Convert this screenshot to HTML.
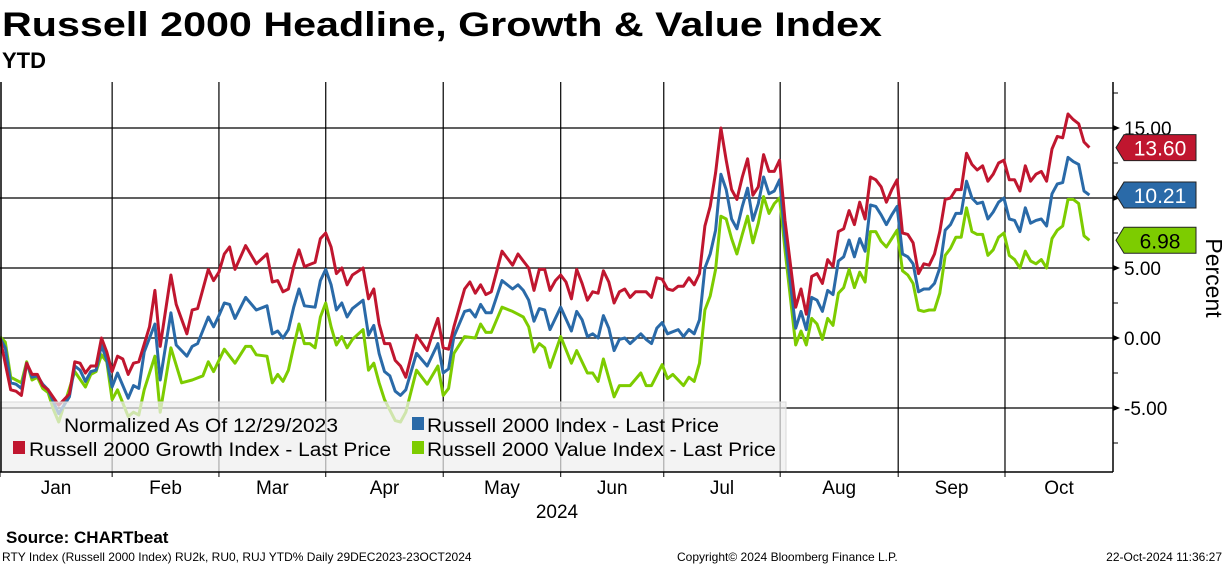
<!DOCTYPE html>
<html><head><meta charset="utf-8"><style>
html,body{margin:0;padding:0;background:#fff;}
svg{display:block;font-family:"Liberation Sans",sans-serif;}
</style></head><body>
<svg id="chart" width="1224" height="566" viewBox="0 0 1224 566">
<text x="2" y="36" font-size="34" font-weight="bold" textLength="880" lengthAdjust="spacingAndGlyphs">Russell 2000 Headline, Growth &amp; Value Index</text>
<text x="2" y="68" font-size="22" font-weight="bold">YTD</text>
<g id="grid"></g>
<g id="series"></g>
<g id="legend">
<rect x="0" y="402" width="786" height="70" fill="#efefef" fill-opacity="0.72" stroke="#d8d8d8"/>
<text x="64" y="432" font-size="19" textLength="274" lengthAdjust="spacingAndGlyphs">Normalized As Of 12/29/2023</text>
<rect x="412" y="417" width="12" height="13" fill="#2a6aa8"/>
<text x="427" y="432" font-size="19" textLength="292" lengthAdjust="spacingAndGlyphs">Russell 2000 Index - Last Price</text>
<rect x="13" y="441" width="12" height="13" fill="#c0162f"/>
<text x="29" y="456" font-size="19" textLength="362" lengthAdjust="spacingAndGlyphs">Russell 2000 Growth Index - Last Price</text>
<rect x="412" y="441" width="12" height="13" fill="#7dcc00"/>
<text x="427" y="456" font-size="19" textLength="349" lengthAdjust="spacingAndGlyphs">Russell 2000 Value Index - Last Price</text>
</g>
<g id="axes"></g>
<text x="557" y="518" font-size="19" text-anchor="middle">2024</text>
<text transform="translate(1206,278) rotate(90)" font-size="23" text-anchor="middle">Percent</text>
<text x="6" y="543" font-size="17" font-weight="bold">Source:  CHARTbeat</text>
<text x="2" y="561" font-size="12">RTY Index (Russell 2000 Index) RU2k, RU0, RUJ YTD%  Daily 29DEC2023-23OCT2024</text>
<text x="677" y="561" font-size="12">Copyright© 2024 Bloomberg Finance L.P.</text>
<text x="1222" y="561" font-size="12" text-anchor="end">22-Oct-2024 11:36:27</text>
</svg>
<script>
const monthLabels = ["Jan","Feb","Mar","Apr","May","Jun","Jul","Aug","Sep","Oct"];
const monthStartDays = [0,21,41,61,83,105,124.3,146.1,168.2,188.2];
const yTicks = [-5,0,5,10,15];
const yMinorTicks = [-7.5,-2.5,2.5,7.5,12.5,17.5];
const growthDays = [0,2,3,4,5,6,7,8,9,11,13,14,15,16,17,18,19,20,21,22,23,24,25,26,28,29,30,32,33,35,36,37,39,40,41,42,43,44,46,48,50,51,52,53,54,55,56,57,59,60,61,62,63,64,65,66,68,69,70,71,72,73,74,75,76,78,80,81,82,83,84,85,87,88,89,90,91,92,94,96,97,98,99,100,101,102,103,104,105,106,107,108,109,110,111,112,113,114,115,116,117,118,119,120,121,122,123,124,125,126,127,128,129,130,131,132,133,134,135,136,137,138,139,140,141,142,143,144,145,146,147,149,150,151,152,153,154,155,156,157,158,159,160,161,162,163,164,165,166,167,168,169,170,171,172,173,174,175,176,177,178,179,180,181,182,183,184,185,186,187,188,189,190,191,192,193,194,195,196,197,198,199,200,201,202,203,204];
const growthVals = [0,-3.7,-3.8,-4.1,-1.8,-2.6,-2.6,-3.4,-3.7,-4.8,-4.0,-1.7,-1.8,-2.5,-2.0,-2.0,0,-1.0,-2.4,-1.3,-1.5,-2.6,-1.8,-1.7,0.8,3.4,-0.6,4.5,2.4,0.3,2.0,2.1,4.9,4.1,4.7,6.0,6.5,4.9,6.6,5.3,6.0,4.0,4.1,3.3,3.5,5.1,6.3,5.1,5.4,7.1,7.5,6.5,4.6,5.0,3.8,4.5,5.0,2.8,3.5,1.0,-0.4,-0.4,-1.6,-2.0,-2.8,0.2,-0.9,0.3,1.4,-0.7,-0.8,0.8,3.5,4.0,3.2,3.8,3.1,3.3,6.2,5.2,6.0,5.5,5.0,3.4,4.9,4.9,3.4,4.1,4.5,4.0,2.8,4.9,3.9,2.7,3.3,3.2,4.8,4.0,2.5,3.3,3.5,2.9,3.3,3.3,3.3,2.9,4.3,4.2,3.5,3.4,3.7,3.7,4.3,3.8,4.6,8.0,9.4,11.8,15.0,12.7,10.6,9.9,11.5,12.8,10.2,10.8,13.1,11.9,11.9,12.7,8.4,2.2,3.5,1.7,4.4,4.6,3.9,5.6,5.1,7.6,7.8,9.1,8.1,9.7,8.5,11.5,11.3,10.8,9.7,10.6,11.3,7.5,7.4,6.8,4.6,5.3,5.2,6.0,7.6,9.9,10.0,10.6,10.6,13.2,12.4,12.0,12.3,11.2,11.7,12.5,12.7,11.3,11.3,10.5,12.3,11.2,11.7,11.9,11.2,13.5,14.4,14.3,16.0,15.6,15.3,14.0,13.6];
const headlineDays = [0,1,2,3,4,5,6,7,8,9,11,13,14,15,16,17,18,19,20,21,22,24,25,26,27,29,30,32,33,35,36,37,39,40,41,42,43,44,46,48,50,51,52,53,54,55,56,57,59,60,61,62,63,64,65,66,68,69,70,71,72,73,74,75,76,78,80,82,83,84,85,87,88,89,90,91,92,94,96,97,98,99,100,101,102,103,105,107,108,109,110,111,112,113,114,115,116,117,118,120,121,122,123,124,125,127,128,129,130,131,132,133,134,135,136,137,138,139,140,141,142,143,144,145,146,147,149,150,151,152,153,154,155,156,157,158,159,160,161,162,163,164,165,166,167,168,169,170,171,172,173,174,175,176,177,178,179,180,181,182,183,184,185,186,187,188,189,190,191,192,193,194,195,196,197,198,199,200,201,202,203,204];
const headlineVals = [0,-0.7,-3.2,-3.3,-3.6,-1.8,-2.8,-2.7,-3.3,-3.7,-5.4,-4.2,-2.0,-2.3,-3.1,-2.4,-2.3,-0.5,-1.6,-3.5,-2.5,-4.3,-3.4,-3.6,-1.0,1.0,-3.0,1.8,-0.5,-1.3,-0.6,-0.4,1.5,0.8,1.6,2.5,2.4,1.4,2.9,2.0,2.3,0.3,0.5,0,0.6,2.2,3.5,2.3,2.2,4.1,4.9,3.8,2.0,2.5,1.5,2.1,2.7,0.2,0.9,-1.1,-2.4,-2.7,-3.8,-4.1,-3.7,-1.1,-2.0,-0.4,-2.5,-2.2,0.1,1.9,2.0,1.5,2.4,1.8,1.8,4.1,3.5,3.8,3.4,2.7,1.2,2.1,2.0,0.6,2.2,0.5,1.9,1.3,0.1,0.3,0,1.6,0.7,-0.9,-0.1,0,-0.4,0.3,-0.1,-0.4,0.7,1.1,0.3,0.6,0.1,0.6,0.3,1.3,5.0,6.0,7.7,11.7,10.6,8.5,7.8,9.4,10.7,8.4,9.6,11.5,10.3,10.5,11.3,7.2,0.7,1.9,0.6,2.9,2.7,1.9,3.4,3.1,5.5,5.8,7.0,5.8,7.1,6.2,9.5,9.4,8.8,8.1,8.8,9.4,6.0,5.8,5.3,3.3,3.5,3.5,3.9,5.0,7.7,8.1,8.9,8.9,11.2,10.0,9.6,9.7,8.5,9.0,9.7,10.0,8.5,8.4,7.6,9.3,8.2,8.4,8.5,8.0,10.3,11.0,11.1,12.9,12.6,12.4,10.5,10.21];
const valueDays = [0,1,2,4,5,6,7,8,9,10,11,12,14,16,17,18,19,20,21,22,24,25,26,27,29,30,32,34,36,38,39,40,42,44,46,47,48,50,51,52,53,54,55,56,57,58,59,60,61,62,63,64,65,66,68,69,70,71,72,74,75,76,78,80,82,83,84,85,87,89,90,91,92,94,96,97,98,99,100,101,102,103,105,107,108,110,111,112,113,115,116,118,120,121,122,124,125,126,128,129,130,131,132,133,134,135,136,137,138,139,140,141,142,143,144,145,146,147,149,150,151,152,153,154,155,156,157,158,159,160,161,162,163,164,165,166,167,168,169,170,171,172,173,174,175,176,177,178,179,180,181,182,183,184,185,186,187,188,189,190,191,192,193,194,195,196,197,198,199,200,201,202,203,204];
const valueVals = [0.1,-0.3,-2.8,-3.2,-1.7,-3.0,-2.8,-3.6,-3.9,-5.1,-6.0,-4.8,-2.4,-3.5,-2.6,-2.4,-1.2,-1.7,-4.4,-3.7,-5.6,-5.3,-5.5,-3.7,-1.3,-5.3,-0.7,-3.2,-3.0,-2.7,-1.7,-2.4,-0.8,-1.8,-0.6,-0.6,-1.2,-1.3,-3.2,-2.6,-3.1,-2.3,-0.6,1.0,-0.4,-0.4,-0.7,1.5,2.5,0.8,-0.5,0.1,-0.7,-0.1,0.6,-2.3,-1.8,-3.2,-4.4,-5.9,-6.0,-5.3,-2.3,-3.3,-2.0,-4.1,-3.6,-1.1,0.1,0,1.0,0.4,0.4,2.2,1.9,1.7,1.5,0.8,-1.0,-0.4,-0.7,-2.1,0.1,-1.8,-0.9,-2.5,-2.5,-3.1,-1.5,-4.2,-3.4,-3.4,-2.5,-3.4,-3.4,-1.9,-2.9,-2.6,-3.4,-2.8,-3.1,-1.8,2.0,3.0,4.9,8.7,8.5,7.1,6.0,7.4,8.7,6.8,8.2,10.1,8.9,9.6,10.0,6.3,-0.5,0.5,-0.5,1.4,1.0,-0.1,1.4,0.9,3.2,3.6,4.9,3.6,4.7,4.0,7.6,7.6,6.9,6.5,7.1,7.7,4.8,4.5,3.9,2.0,1.9,2.0,2.0,3.2,5.9,6.4,7.2,7.2,9.3,7.6,7.4,7.4,5.9,6.3,7.2,7.5,5.9,5.6,5.0,6.2,5.5,5.3,5.6,5.0,7.1,7.7,8.0,9.9,9.9,9.6,7.3,6.98];
const lastLabels = ["13.60","10.21","6.98"];
const lastValues = [13.60,10.21,6.98];

const NS = "http://www.w3.org/2000/svg";
const PLOT_L = 0, PLOT_R = 1113, PLOT_T = 82, PLOT_B = 472;
function xScale(d){ return PLOT_L + d * 5.34; }
function yScale(v){ return 338 - v * 14; }
function mk(tag, attrs, parent){
  const e = document.createElementNS(NS, tag);
  for (const k in attrs) e.setAttribute(k, attrs[k]);
  parent.appendChild(e);
  return e;
}
const grid = document.getElementById('grid');
const axes = document.getElementById('axes');
const series = document.getElementById('series');

yTicks.forEach(function(t){
  const y = yScale(t);
  const l = mk('line', {x1:PLOT_L, x2:PLOT_R, y1:y, y2:y, stroke:'#000', 'stroke-width':1.3}, grid);
  
  
  const a = mk('path', {d:'M'+(PLOT_R)+' '+(y-3)+' L'+(PLOT_R+7)+' '+y+' L'+PLOT_R+' '+(y+3)+'Z', fill:'#000'}, axes);
  
  
  const tx = mk('text', {x:PLOT_R+11, y:y+7, 'font-size':19}, axes);
  tx.textContent = t.toFixed(2);
  
  
});
yMinorTicks.forEach(function(t){
  const y = yScale(t);
  const l = mk('line', {x1:PLOT_R, x2:PLOT_R+5, y1:y, y2:y, stroke:'#000', 'stroke-width':1}, axes);
  
  
});
monthStartDays.forEach(function(d, i){
  const x = xScale(d);
  if (i > 0) {
    const l = mk('line', {x1:x, x2:x, y1:PLOT_T, y2:PLOT_B, stroke:'#000', 'stroke-width':1.2}, grid);
    
    
  }
  const tk = mk('line', {x1:x, x2:x, y1:PLOT_B, y2:PLOT_B+5, stroke:'#000', 'stroke-width':1}, axes);
  
  
  const next = i + 1 < monthStartDays.length ? xScale(monthStartDays[i+1]) : PLOT_R;
  const tx = mk('text', {x:(x+next)/2, y:494, 'font-size':19, 'text-anchor':'middle'}, axes);
  tx.textContent = monthLabels[i];
  
  
});
const lb = mk('line', {x1:1, x2:1, y1:PLOT_T, y2:PLOT_B, stroke:'#000', 'stroke-width':1.5}, axes);


const xa = mk('line', {x1:0, x2:PLOT_R, y1:PLOT_B, y2:PLOT_B, stroke:'#000', 'stroke-width':1.5}, axes);


const ya = mk('line', {x1:PLOT_R, x2:PLOT_R, y1:PLOT_T, y2:PLOT_B, stroke:'#000', 'stroke-width':1.5}, axes);



function drawLine(days, vals, color, name){
  let d = '';
  for (let i = 0; i < days.length; i++) d += (i ? 'L' : 'M') + xScale(days[i]).toFixed(1) + ' ' + yScale(vals[i]).toFixed(1);
  const p = mk('path', {d:d, fill:'none', stroke:color, 'stroke-width':3, 'stroke-linejoin':'round'}, series);
  
  
}
drawLine(valueDays, valueVals, '#7dcc00', 'value-index-line');
drawLine(headlineDays, headlineVals, '#2a6aa8', 'headline-index-line');
drawLine(growthDays, growthVals, '#c0162f', 'growth-index-line');

const tagColors = ['#c0162f','#2a6aa8','#7dcc00'];
const tagText = ['#fff','#fff','#000'];
lastValues.forEach(function(v, i){
  const y = yScale(v);
  const g = mk('path', {d:'M1116 '+y+' L1124 '+(y-13)+' L1196 '+(y-13)+' L1196 '+(y+13)+' L1124 '+(y+13)+'Z', fill:tagColors[i], stroke:'#222', 'stroke-width':1}, axes);
  
  
  const t = mk('text', {x:1160, y:y+8, 'font-size':21, 'text-anchor':'middle', fill:tagText[i]}, axes);
  t.textContent = lastLabels[i];
  
  
});
</script>
</body></html>
